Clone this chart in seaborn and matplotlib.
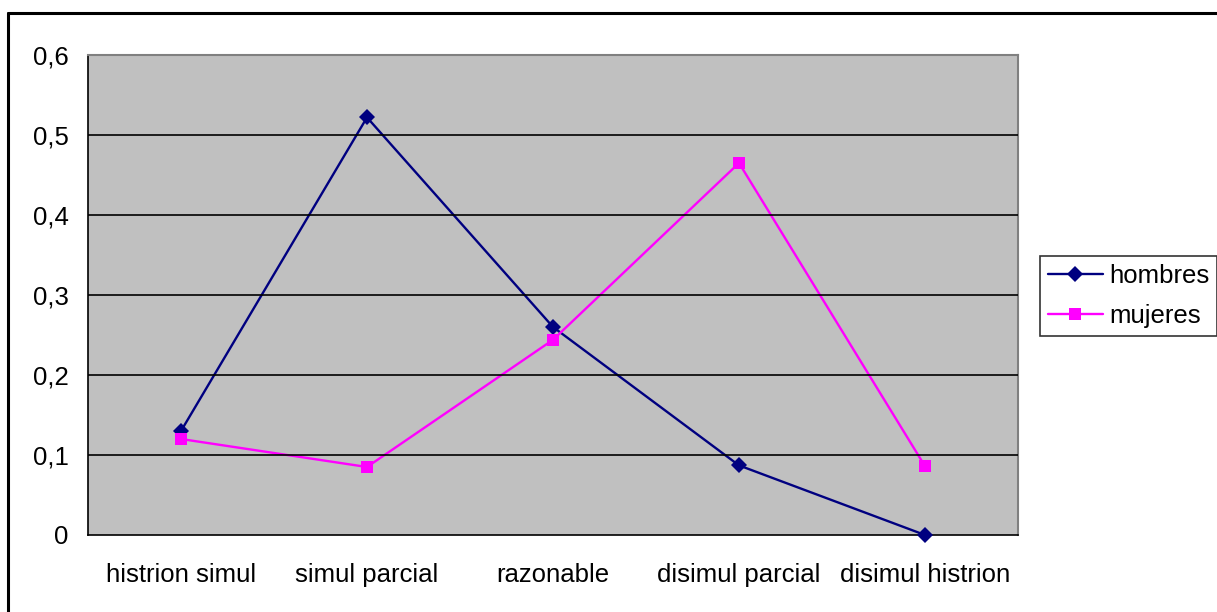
import matplotlib
matplotlib.use("Agg")
import matplotlib.pyplot as plt
from matplotlib.lines import Line2D
from matplotlib.ticker import FixedLocator, FuncFormatter
import pandas as pd
import seaborn as sns

categories = ["histrion simul", "simul parcial", "razonable", "disimul parcial", "disimul histrion"]
hombres = [0.13, 0.522, 0.26, 0.087, 0.0]
mujeres = [0.12, 0.085, 0.244, 0.465, 0.086]
series_names = ["hombres", "mujeres"]
y_ticks = [0, 0.1, 0.2, 0.3, 0.4, 0.5, 0.6]

sns.set_theme(style="white")
plt.rcParams["font.family"] = ["Liberation Sans", "DejaVu Sans"]
plt.rcParams["text.color"] = "black"

df = pd.DataFrame({
    "pos": list(range(len(categories))) * 2,
    "valor": hombres + mujeres,
    "serie": [series_names[0]] * len(categories) + [series_names[1]] * len(categories),
})

W, H = 1217, 612
FS = 18.5
fig = plt.figure(figsize=(W / 100, H / 100), dpi=100)
ax = fig.add_axes([88 / W, 1 - 535 / H, (1018 - 88) / W, (535 - 55) / H])
ax.set_facecolor("#C0C0C0")

palette = {"hombres": "#000080", "mujeres": "#FF00FF"}
markers = {"hombres": "D", "mujeres": "s"}
sns.lineplot(data=df, x="pos", y="valor", hue="serie", style="serie",
             palette=palette, markers=markers, dashes=False, linewidth=1.7,
             markersize=8.3, markeredgewidth=0, ax=ax, legend=True, clip_on=False)

ax.set_xlim(-0.5, len(categories) - 0.5)
ax.set_ylim(0, 0.6)
ax.yaxis.set_major_locator(FixedLocator(y_ticks))
ax.yaxis.set_major_formatter(FuncFormatter(lambda v, p: ("%g" % round(v, 1)).replace(".", ",")))
ax.set_xticks(range(len(categories)))
ax.set_xticklabels(categories)
ax.xaxis.set_minor_locator(FixedLocator([i - 0.5 for i in range(len(categories) + 1)]))
ax.tick_params(axis="x", which="major", length=0, pad=20, labelsize=FS, colors="black")
ax.tick_params(axis="x", which="minor", length=8, width=1, color="black", direction="out")
ax.tick_params(axis="y", length=8, width=1, color="black", direction="out", pad=6,
               labelsize=FS, labelcolor="black")
ax.set_xlabel("")
ax.set_ylabel("")

ax.grid(False)
for y in y_ticks[1:-1]:
    ax.axhline(y, color="black", linewidth=1.2, zorder=1)
for side in ["left", "bottom"]:
    ax.spines[side].set_color("black")
    ax.spines[side].set_linewidth(1.2)
for side in ["top", "right"]:
    ax.spines[side].set_color("#808080")
    ax.spines[side].set_linewidth(1.5)
for line in ax.lines:
    line.set_zorder(3)

handles, labels = ax.get_legend_handles_labels()
leg = ax.legend(handles, labels, loc="center left", bbox_to_anchor=(1040 / W, 1 - 296 / H),
                bbox_transform=fig.transFigure, frameon=True, fancybox=False,
                fontsize=FS, handlelength=2.15, handletextpad=0.25, borderpad=0.3,
                labelspacing=0.65, borderaxespad=0, labelcolor="black")
leg.get_frame().set_edgecolor("black")
leg.get_frame().set_linewidth(1.2)
leg.get_frame().set_facecolor("white")

# chart-area frame: top and left edges
fig.add_artist(Line2D([8 / W, 1.0], [1 - 13 / H, 1 - 13 / H], transform=fig.transFigure,
                      color="black", linewidth=2.2))
fig.add_artist(Line2D([8 / W, 8 / W], [0.0, 1 - 13 / H], transform=fig.transFigure,
                      color="black", linewidth=2.2))

fig.savefig("out.png", dpi=100, facecolor="white")
